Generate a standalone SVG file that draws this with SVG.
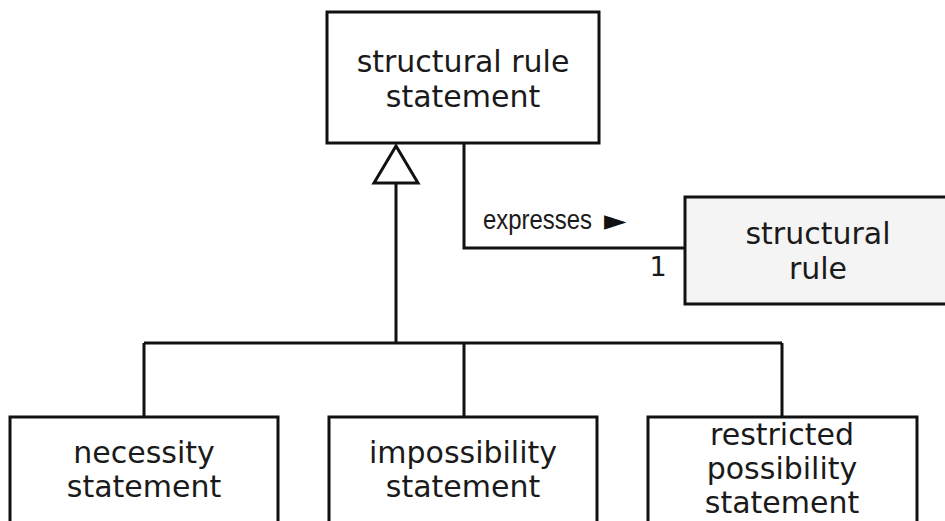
<svg xmlns="http://www.w3.org/2000/svg" width="945" height="521" viewBox="0 0 945 521">
<style>
.box{fill:#ffffff;stroke:#111111;stroke-width:3}
.gray{fill:#f4f4f4}
.t{font-family:"DejaVu Sans",Verdana,sans-serif;font-size:30px;fill:#1a1a1a;text-anchor:middle}
.line{fill:none;stroke:#111111;stroke-width:3}
.lbl{font-family:"Liberation Sans",Arial,sans-serif;font-size:27px;fill:#1a1a1a}
.mult{font-family:"DejaVu Sans",Verdana,sans-serif;font-size:27px;fill:#1a1a1a;text-anchor:middle}
</style>
<rect width="945" height="521" fill="#ffffff"/>
<g id="connectors">
  <path class="line" d="M396 183 V343 M144 343 H782 M144 343 V417 M464 343 V417 M782 343 V417"/>
  <polygon class="box" points="396,146 374,183 418,183"/>
  <path class="line" d="M464 143 V248 H685"/>
  <text class="lbl" x="483" y="229" textLength="109" lengthAdjust="spacingAndGlyphs">expresses</text>
  <text x="604" y="230" font-family="DejaVu Sans, sans-serif" font-size="29px" fill="#111111">►</text>
  <text class="mult" x="658" y="276">1</text>
</g>
<g id="structural-rule-statement">
  <rect class="box" x="327" y="12" width="272" height="131"/>
  <text class="t" x="463" y="72">structural rule</text>
  <text class="t" x="463" y="107">statement</text>
</g>
<g id="structural-rule">
  <rect class="box gray" x="685" y="197" width="272" height="107"/>
  <text class="t" x="818" y="244">structural</text>
  <text class="t" x="818" y="279">rule</text>
</g>
<g id="necessity-statement">
  <rect class="box" x="10" y="417" width="268" height="130"/>
  <text class="t" x="144" y="463">necessity</text>
  <text class="t" x="144" y="497">statement</text>
</g>
<g id="impossibility-statement">
  <rect class="box" x="329" y="417" width="268" height="130"/>
  <text class="t" x="463" y="463">impossibility</text>
  <text class="t" x="463" y="497">statement</text>
</g>
<g id="restricted-possibility-statement">
  <rect class="box" x="648" y="417" width="269" height="130"/>
  <text class="t" x="782" y="445">restricted</text>
  <text class="t" x="782" y="479">possibility</text>
  <text class="t" x="782" y="513">statement</text>
</g>
</svg>
